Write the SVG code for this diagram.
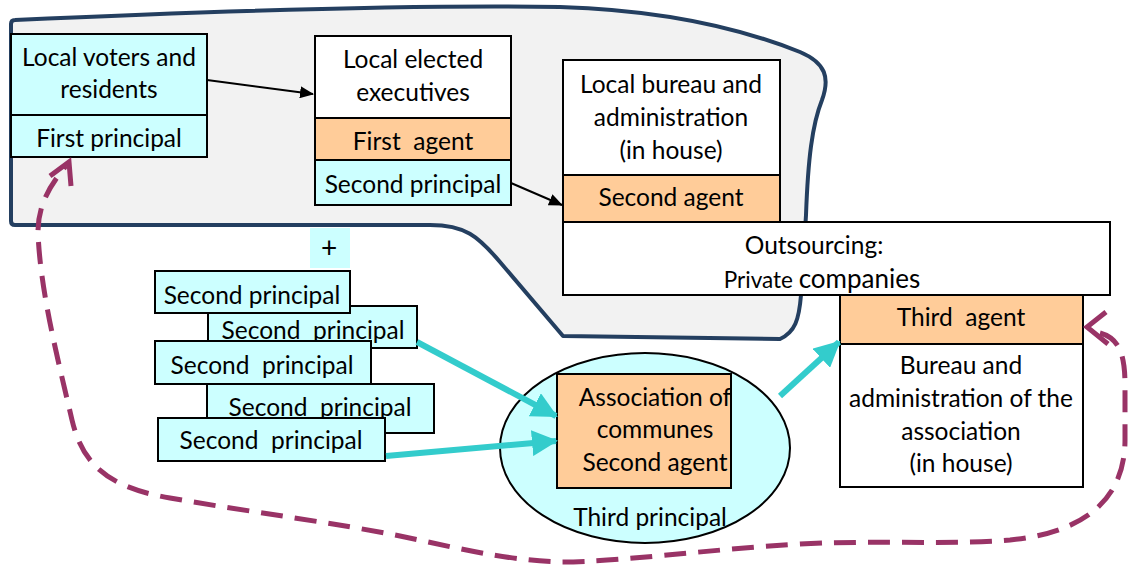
<svg xmlns="http://www.w3.org/2000/svg" width="1129" height="569" viewBox="0 0 1129 569">
  <style>
    text { font-family: Lato, "Open Sans", "Liberation Sans", sans-serif; font-size: 24.5px; fill: #000; text-anchor: middle; }
    .box { stroke: #000; stroke-width: 2; }
    .cyan { fill: #ccffff; }
    .orange { fill: #ffcc99; }
    .white { fill: #ffffff; }
    .link { stroke: #000; stroke-width: 2; fill: none; }
    .flow { stroke: #33cccc; stroke-width: 6; fill: none; }
    .loop { stroke: #993366; stroke-width: 5; fill: none; stroke-dasharray: 22 12; }
    .chev { stroke: #993366; stroke-width: 5; fill: none; }
  </style>
  <defs>
    <marker id="blackHead" markerUnits="userSpaceOnUse" markerWidth="14" markerHeight="12" refX="13" refY="6" orient="auto">
      <path d="M0,0 L14,6 L0,12 Z" fill="#000"/>
    </marker>
    <marker id="cyanHead" markerUnits="userSpaceOnUse" markerWidth="26" markerHeight="26" refX="24" refY="13" orient="auto">
      <path d="M0,0 L26,13 L0,26 Z" fill="#33cccc"/>
    </marker>
  </defs>

  <!-- local government area outline -->
  <g id="local-area">
    <path d="M15,20 C150,14 400,4 560,7 C660,10 740,28 800,52 C826,63 830,78 822,100 C812,125 808,160 806,215 L801,295 C799,320 795,332 780,339 L563,336 L500,262 C478,236 465,225 430,225 L15,225 Q11,225 11,221 L11,24 Q11,20 15,20 Z" fill="#f2f2f2" stroke="#243f60" stroke-width="4" stroke-linejoin="round"/>
  </g>

  <!-- voters -->
  <g id="voters">
    <rect class="box cyan" x="11" y="34" width="196" height="81"/>
    <rect class="box cyan" x="11" y="115" width="196" height="42"/>
    <text x="109" y="66">Local voters and</text>
    <text x="109" y="98">residents</text>
    <text x="109" y="147">First principal</text>
  </g>

  <!-- elected executives -->
  <g id="executives">
    <rect class="box white" x="315" y="36" width="196" height="82"/>
    <rect class="box orange" x="315" y="118" width="196" height="42"/>
    <rect class="box cyan" x="315" y="160" width="196" height="45"/>
    <text x="413" y="68">Local elected</text>
    <text x="413" y="101">executives</text>
    <text x="413" y="150" xml:space="preserve">First  agent</text>
    <text x="413" y="193">Second principal</text>
  </g>

  <!-- local bureau -->
  <g id="bureau">
    <rect class="box white" x="563" y="60" width="217" height="115"/>
    <rect class="box orange" x="563" y="175" width="217" height="47"/>
    <text x="671" y="93">Local bureau and</text>
    <text x="671" y="126">administration</text>
    <text x="671" y="159">(in house)</text>
    <text x="671" y="206">Second agent</text>
  </g>

  <!-- outsourcing -->
  <g id="outsourcing">
    <rect class="box white" x="563" y="222" width="547" height="73"/>
    <text x="814" y="254">Outsourcing:</text>
    <text x="822" y="288"><tspan style="font-size:22.5px">Private </tspan><tspan style="font-size:26px">companies</tspan></text>
  </g>

  <!-- third agent -->
  <g id="third-agent">
    <rect class="box orange" x="840" y="295" width="243" height="49"/>
    <rect class="box white" x="840" y="344" width="243" height="143"/>
    <text x="961" y="326" xml:space="preserve">Third  agent</text>
    <text x="961" y="374">Bureau and</text>
    <text x="961" y="407">administration of the</text>
    <text x="961" y="440">association</text>
    <text x="961" y="472">(in house)</text>
  </g>

  <!-- plus sign -->
  <g id="plus">
    <rect x="310" y="228" width="40" height="40" fill="#ccffff"/>
    <text x="329" y="258" style="font-size:28px">+</text>
  </g>

  <!-- stack of second principals -->
  <g id="principals">
    <rect class="box cyan" x="208" y="306" width="209" height="42"/>
    <text x="313" y="339" xml:space="preserve">Second  principal</text>
    <rect class="box cyan" x="155" y="271" width="195" height="42"/>
    <text x="252" y="304">Second principal</text>
    <rect class="box cyan" x="155" y="341" width="216" height="43"/>
    <text x="262" y="374" xml:space="preserve">Second  principal</text>
    <rect class="box cyan" x="207" y="384" width="227" height="49"/>
    <text x="320" y="416" xml:space="preserve">Second  principal</text>
    <rect class="box cyan" x="158" y="418" width="227" height="43"/>
    <text x="271" y="449" xml:space="preserve">Second  principal</text>
  </g>

  <!-- association of communes -->
  <g id="association">
    <ellipse cx="645" cy="448" rx="145" ry="95" fill="#ccffff" stroke="#000" stroke-width="2"/>
    <rect class="box orange" x="557" y="374" width="174" height="114"/>
    <text x="655" y="406">Association of</text>
    <text x="655" y="438">communes</text>
    <text x="655" y="471">Second agent</text>
    <text x="650" y="526">Third principal</text>
  </g>

  <!-- connectors -->
  <g id="connectors">
    <path class="link" d="M207,80 L313,94" marker-end="url(#blackHead)"/>
    <path class="link" d="M511,183 L562,205" marker-end="url(#blackHead)"/>
    <path class="flow" d="M417,342 L556,416" marker-end="url(#cyanHead)"/>
    <path class="flow" d="M386,456 L556,441" marker-end="url(#cyanHead)"/>
    <path class="flow" d="M780,396 L839,342" marker-end="url(#cyanHead)"/>
    <path class="loop" d="M1100,333 C1118,338 1125,352 1125,385 L1125,440 C1125,495 1090,532 1010,540 C950,545 880,540 800,544 C700,550 620,562 560,562 C500,560 450,546 400,536 C330,522 250,512 170,498 C105,487 82,462 72,420 C58,360 40,290 38,232 C38,205 50,185 66,166"/>
    <path class="chev" d="M1106,312 L1087,327 L1108,344"/>
    <path class="chev" d="M50,176 L69,162 L71,186"/>
  </g>
</svg>
